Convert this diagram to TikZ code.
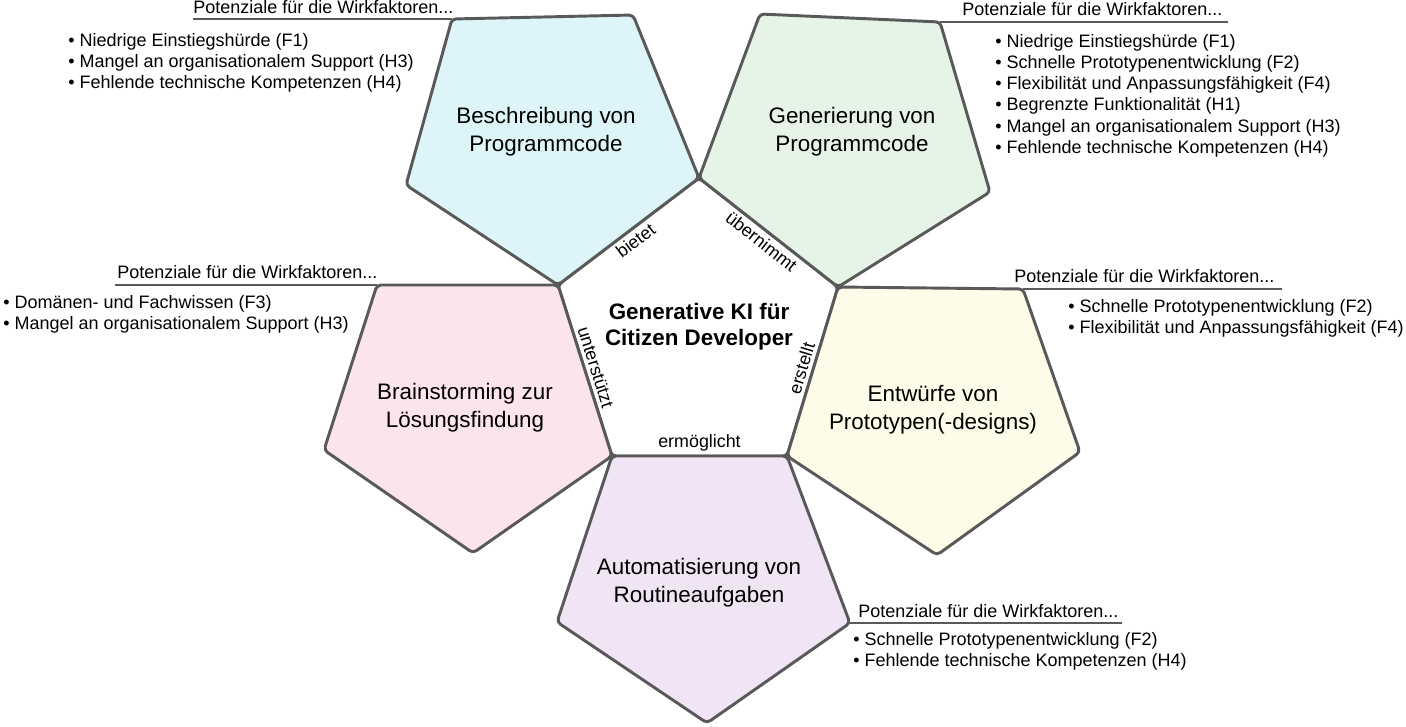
\documentclass[tikz,border=0pt]{standalone}
\usepackage{fontspec}
\setmainfont{Liberation Sans}
\definecolor{lineC}{HTML}{595959}
\definecolor{blueF}{HTML}{DDF5F8}
\definecolor{greenF}{HTML}{E5F4E7}
\definecolor{pinkF}{HTML}{FBE4EC}
\definecolor{yellowF}{HTML}{FEFCE8}
\definecolor{purpleF}{HTML}{F1E4F5}
\tikzset{
  pent/.style={draw=lineC, line width=2.2pt, rounded corners=3pt, line join=round},
  hline/.style={draw=lineC, line width=2.2pt},
  small/.style={font=\fontsize{13.5}{16}\selectfont, inner sep=0pt, anchor=base west},
  big/.style={font=\fontsize{16.8}{21}\selectfont, align=center},
  title/.style={font=\fontsize{16.8}{19.5}\selectfont\bfseries, align=center},
  elabel/.style={font=\fontsize{13.4}{16}\selectfont, sloped, inner sep=3.5pt, midway},
}
\begin{document}
\begin{tikzpicture}[x=0.75pt,y=-0.75pt]
\useasboundingbox (0,0) rectangle (1406,726);
% center pentagon vertices
\coordinate (c1) at (699,178);
\coordinate (c2) at (838,287);
\coordinate (c3) at (787,456);
\coordinate (c4) at (612,456);
\coordinate (c5) at (558,285);
% blue
\coordinate (b1) at (452,19);
\coordinate (b2) at (633,15);
\coordinate (b5) at (406,185);
% green
\coordinate (g1) at (760,14);
\coordinate (g2) at (940,22);
\coordinate (g3) at (990,192);
% pink
\coordinate (p1) at (377,285);
\coordinate (p4) at (473,553);
\coordinate (p5) at (324,450);
% yellow
\coordinate (y2) at (1023,289);
\coordinate (y3) at (1080,452);
\coordinate (y4) at (937,555);
% purple
\coordinate (u3) at (850,623);
\coordinate (u4) at (707,723);
\coordinate (u5) at (557,622);
% line ends
\coordinate (lTL) at (193,19);
\coordinate (lTR) at (1228,22);
\coordinate (lP) at (115,285);
\coordinate (lY) at (1282,289);
\coordinate (lU) at (1122,623);

% pentagons
\draw[pent, fill=white] (c1) -- (c2) -- (c3) -- (c4) -- (c5) -- cycle;
\draw[pent, fill=blueF] (b1) -- (b2) -- (c1) -- (c5) -- (b5) -- cycle;
\draw[pent, fill=greenF] (g1) -- (g2) -- (g3) -- (c2) -- (c1) -- cycle;
\draw[pent, fill=pinkF] (p1) -- (c5) -- (c4) -- (p4) -- (p5) -- cycle;
\draw[pent, fill=yellowF] (c2) -- (y2) -- (y3) -- (y4) -- (c3) -- cycle;
\draw[pent, fill=purpleF] (c4) -- (c3) -- (u3) -- (u4) -- (u5) -- cycle;

% header lines
\draw[hline] (lTL) -- (b1);
\draw[hline] (g2) -- (lTR);
\draw[hline] (lP) -- (p1);
\draw[hline] (y2) -- (lY);
\draw[hline] (u3) -- (lU);

% pentagon labels
\node[title] (center) at (699,327) {Generative KI für\\Citizen Developer};
\node[big] (tB) at (546,132) {Beschreibung von\\Programmcode};
\node[big] (tG) at (852,132) {Generierung von\\Programmcode};
\node[big] (tP) at (465,408) {Brainstorming zur\\Lösungsfindung};
\node[big] (tY) at (933,410) {Entwürfe von\\Prototypen(-designs)};
\node[big] (tU) at (699,583) {Automatisierung von\\Routineaufgaben};

% edge labels
\path (c5) -- (c1) node[elabel, below] (eB) {bietet};
\path (c1) -- (c2) node[elabel, below] (eG) {übernimmt};
\path (c3) -- (c2) node[elabel, above] (eY) {erstellt};
\path (c4) -- (c3) node[elabel, above] (eU) {ermöglicht};
\path (c5) -- (c4) node[elabel, above] (eP) {unterstützt};

% headers
\node[small] (hTL) at (193,13) {Potenziale für die Wirkfaktoren...};
\node[small] (hTR) at (962,15) {Potenziale für die Wirkfaktoren...};
\node[small] (hP) at (117,278) {Potenziale für die Wirkfaktoren...};
\node[small] (hY) at (1014,282) {Potenziale für die Wirkfaktoren...};
\node[small] (hU) at (858,617) {Potenziale für die Wirkfaktoren...};

% bullet lists
\foreach \t [count=\i] in {Niedrige Einstiegshürde (F1),
  Mangel an organisationalem Support (H3),
  Fehlende technische Kompetenzen (H4)}
  \node[small] (bTL\i) at (68,{46+21*(\i-1)}) {• \t};
\foreach \t [count=\i] in {Niedrige Einstiegshürde (F1),
  Schnelle Prototypenentwicklung (F2),
  Flexibilität und Anpassungsfähigkeit (F4),
  Begrenzte Funktionalität (H1),
  Mangel an organisationalem Support (H3),
  Fehlende technische Kompetenzen (H4)}
  \node[small] (bTR\i) at (995,{47+21.3*(\i-1)}) {• \t};
\foreach \t [count=\i] in {Domänen- und Fachwissen (F3),
  Mangel an organisationalem Support (H3)}
  \node[small] (bP\i) at (3,{308+21.5*(\i-1)}) {• \t};
\foreach \t [count=\i] in {Schnelle Prototypenentwicklung (F2),
  Flexibilität und Anpassungsfähigkeit (F4)}
  \node[small] (bY\i) at (1068,{312+21.5*(\i-1)}) {• \t};
\foreach \t [count=\i] in {Schnelle Prototypenentwicklung (F2),
  Fehlende technische Kompetenzen (H4)}
  \node[small] (bU\i) at (853,{645+21.5*(\i-1)}) {• \t};
\end{tikzpicture}
\end{document}
